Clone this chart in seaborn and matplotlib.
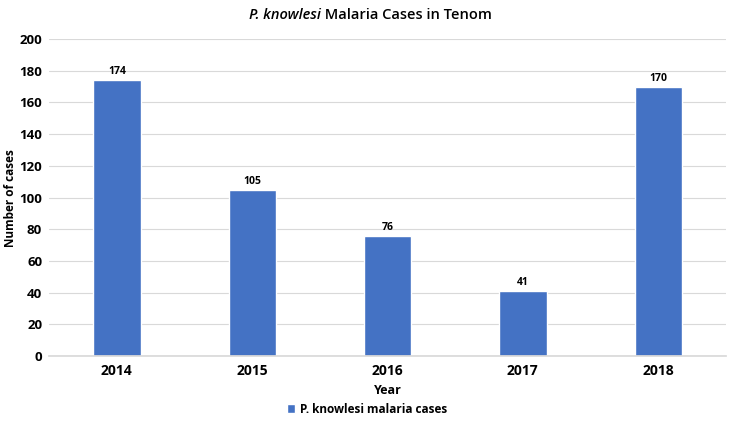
import matplotlib.pyplot as plt
import pandas as pd
import seaborn as sns

years = ["2014", "2015", "2016", "2017", "2018"]
cases = [174, 105, 76, 41, 170]
series_name = "P. knowlesi malaria cases"

BAR_COLOR = "#4472C4"
GRID_COLOR = "#D9D9D9"

sns.set_theme(style="white")
plt.rcParams["font.family"] = ["Open Sans", "DejaVu Sans"]
plt.rcParams["text.color"] = "black"
plt.rcParams["axes.labelcolor"] = "black"
plt.rcParams["xtick.color"] = "black"
plt.rcParams["ytick.color"] = "black"

df = pd.DataFrame({"Year": years, "cases": cases})

fig = plt.figure(figsize=(7.34, 4.24), dpi=100)
ax = fig.add_axes([0.067, 0.160, 0.922, 0.748])

sns.barplot(data=df, x="Year", y="cases", ax=ax, color=BAR_COLOR,
            width=0.35, saturation=1, label=series_name, legend=False)
if ax.get_legend() is not None:
    ax.get_legend().remove()

ax.set_ylim(0, 200)
ax.set_yticks(range(0, 201, 20))
ax.set_xlim(-0.5, len(years) - 0.5)
ax.yaxis.grid(True, color=GRID_COLOR, linewidth=0.8)
ax.set_axisbelow(True)
for side in ["top", "right", "left"]:
    ax.spines[side].set_visible(False)
ax.spines["bottom"].set_color(GRID_COLOR)

ax.tick_params(axis="x", length=0, labelsize=10, pad=6)
ax.tick_params(axis="y", length=0, labelsize=9.5, pad=5)
for lbl in ax.get_xticklabels() + ax.get_yticklabels():
    lbl.set_fontweight("bold")

ax.set_xlabel("Year", fontsize=9, fontweight="bold", labelpad=4)
ax.set_ylabel("")
fig.text(0.014, 0.5 * (0.160 + 0.908), "Number of cases", rotation=90,
         fontsize=8.5, fontweight="bold", ha="center", va="center")

for container in ax.containers:
    ax.bar_label(container, fontsize=7.5, fontweight="bold", padding=2)

# title: italic species name followed by regular text
fig.canvas.draw()
renderer = fig.canvas.get_renderer()
t1 = fig.text(0, 0.965, "P. knowlesi", fontsize=10.5, style="italic",
              fontweight="semibold", va="center", ha="left")
t2 = fig.text(0, 0.965, " Malaria Cases in Tenom", fontsize=10.5,
              fontweight="semibold", va="center", ha="left")
w1 = t1.get_window_extent(renderer).width / fig.bbox.width
w2 = t2.get_window_extent(renderer).width / fig.bbox.width
x0 = 0.505 - (w1 + w2) / 2
t1.set_x(x0)
t2.set_x(x0 + w1)

handles, labels = ax.get_legend_handles_labels()
leg = fig.legend(handles[:1], [series_name], loc="center", bbox_to_anchor=(0.5, 0.035),
                 frameon=False, fontsize=8.5, handlelength=0.7, handleheight=0.7,
                 handletextpad=0.4)
for txt in leg.get_texts():
    txt.set_fontweight("bold")

fig.savefig("out.png", dpi=100)
